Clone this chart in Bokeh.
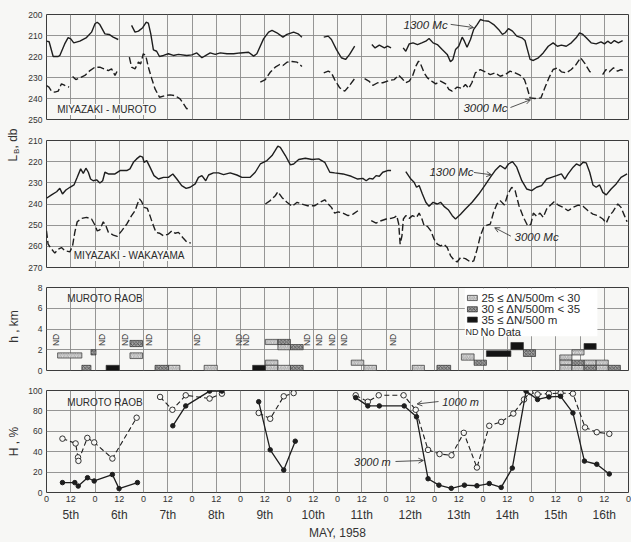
import math
from bokeh.plotting import figure
from bokeh.layouts import column, row
from bokeh.models import (Range1d, LinearAxis, Grid, FixedTicker, Label, Arrow,
                          OpenHead, BoxAnnotation)
from bokeh.core.properties import value
from bokeh.embed import file_html
from bokeh.resources import INLINE

NAN = float("nan")

# ---------------- data (hours from 0h May 5, 1958) ----------------
hour_ticks = list(range(0, 289, 12))
day_ticks = list(range(12, 289, 24))
day_names = ["5th", "6th", "7th", "8th", "9th", "10th", "11th", "12th",
             "13th", "14th", "15th", "16th"]

# Miyazaki - Muroto, basic transmission loss (db)
muroto_1300 = [
    [(0, 212.7), (1.3, 213), (3.3, 220), (5.8, 220), (6.6, 219.5), (9, 214), (10.7, 211),
     (12, 211.6), (13.5, 213.5), (16.5, 212.7), (19.8, 211), (22.3, 208.4), (24, 204.4),
     (25.1, 203.7), (26.4, 204.8), (28.9, 209.2), (31, 209.5), (33, 210.8), (35.5, 211.9)],
    [(42.1, 205.2), (43.8, 208.4), (45.5, 207.9), (47.6, 206.3), (49.3, 203.7), (50.4, 204.1),
     (51.6, 209.2), (52.9, 216.8), (54.5, 217.5), (55.9, 220), (57.9, 219.5), (60.3, 218.7),
     (62.8, 219.5), (65.3, 219), (69.4, 219.5), (71.9, 219.2), (74.4, 218.3), (76.9, 220.6),
     (79.3, 219.2), (81, 218.3), (83.5, 219), (86, 218.3), (89.3, 218.7), (92.6, 218.7),
     (95.9, 218.3), (100, 218), (102.5, 219.8), (104.1, 218.7), (107.4, 211.6), (109.9, 208.4),
     (111.6, 207.6), (114, 208.7), (117, 210.8), (119, 209.5), (122.3, 208.4), (124.5, 209.2),
     (126.4, 210.8)],
    [(137.2, 210.8), (139.4, 210.3), (141, 211.9), (143.5, 216.7), (145.9, 220.6), (148, 221.4),
     (150, 219), (152.5, 215.1)],
    [(161, 214.3), (162.6, 215.9), (164.7, 214.6), (167.2, 215.9), (168.8, 215.1), (170.5, 215.9)],
    [(176.5, 215.9), (177.8, 217.5), (179.5, 214), (181.4, 213.5), (183.6, 214.3), (185.7, 213.5),
     (187.7, 212.7), (189.3, 211.4), (191.3, 213.5), (193.4, 214.3), (195.8, 216.7), (198.3, 219),
     (199.9, 222.5), (201.1, 221.4), (202.4, 216.7), (204, 215.1), (205.7, 210.8), (206.8, 212.7),
     (208.1, 215.6), (209.8, 211.9), (211.4, 207.1), (213.1, 204.8), (214.7, 202.4), (216.3, 202.9),
     (218.8, 203.2), (221.3, 204.8), (223.7, 207.1), (225.6, 209.5), (227, 208.7), (228.6, 206.7),
     (230.6, 207.9), (232.7, 210.3), (235.2, 211.1), (236.8, 212.4), (238, 216.7), (239.3, 221.4),
     (240.9, 221.9), (243.4, 220.6), (245.8, 218.3), (248.3, 215.1), (250.7, 213.5), (252.8, 215.1),
     (254.8, 214.6), (257.2, 215.1), (259.7, 213.5), (262.1, 211.1), (263.8, 208.7), (265.4, 209.5),
     (267.1, 211.1), (269.5, 213.5), (272, 214), (274.4, 213), (276.1, 214), (277.7, 212.7),
     (279.3, 213.8), (281, 212.4), (283, 213.5), (285.1, 212.4)],
]
muroto_3000 = [
    [(0, 233.8), (1.2, 234.6), (2.5, 236.5), (4.1, 237), (5.8, 236.5), (7.4, 233), (9.1, 233.8),
     (11.2, 234.6)],
    [(12.9, 229.5), (14.5, 231), (16.5, 230.2), (19, 229), (21.5, 226.7), (24, 225.1), (26.4, 225.1),
     (28.4, 225.9), (30.6, 226.7), (32.2, 225.9), (33.9, 229), (35.5, 225.9)],
    [(41, 220.3), (42.1, 225.1), (43.8, 225.9), (45.5, 222.7), (46.6, 223.5), (47.9, 218.7),
     (49.1, 219.5), (50.4, 225.1), (52.1, 230.6), (53.7, 235.4), (55.9, 239.4), (58.7, 238.6),
     (61.2, 238.3), (63.6, 238.6), (66.1, 240.2), (67.8, 242.5), (69.4, 244.9), (70.4, 244.4)],
    [(105.8, 232.2), (108.3, 231), (110.7, 227.5), (113.2, 225.1), (115.4, 223.8), (117, 224.3),
     (119, 222.7), (121.5, 222.4), (124, 222.7), (126.4, 224.8)],
    [(137.2, 227.8), (139.4, 227), (141, 227.8), (142.6, 231), (145.1, 234.9), (147.6, 236.5),
     (149.7, 234.1), (152.5, 230.5)],
    [(157.4, 230.5), (159.5, 231.7), (161.5, 233.7), (163.9, 232.5), (166.4, 232.5), (169.7, 231.4),
     (172.1, 231), (174.2, 228.9), (175.9, 230.5), (177.8, 232.5), (179.5, 231.7), (181.1, 229.4),
     (182.8, 224.6), (184.1, 222.2), (185.2, 223.8), (186.9, 227.8), (188.5, 230.2), (190.6, 231.7),
     (192.6, 233), (195, 231.7), (197.5, 233), (199.1, 235.7), (200.7, 236.5), (203.2, 234.6),
     (205.6, 235.2), (207.3, 233.3), (208.9, 235.2), (210.5, 232.5), (212.2, 227.8), (214.7, 226.2),
     (217.1, 227.3), (219.6, 228.6), (222, 227.8), (224.5, 229.4), (227, 228.6), (229.4, 227),
     (231.9, 227.8), (234.3, 228.9), (236.5, 231), (237.6, 234.1), (239.3, 239.7), (241.7, 240),
     (244.7, 239.7), (246.6, 234.9), (248.6, 230.2), (250.7, 226.2), (252.8, 225.4), (254.8, 227.3),
     (257.2, 227.8), (259.7, 226.2), (262.1, 223.8), (264.3, 220.6), (266.2, 223), (268.7, 227),
     (270.3, 228.6)],
    [(275.2, 228.6), (276.8, 226.2), (278.5, 227.3), (280.6, 225.4), (282.6, 227), (284.2, 226.2),
     (285.9, 227)],
]

# Miyazaki - Wakayama, basic transmission loss (db)
wakayama_1300 = [
    [(0, 237.3), (2.5, 235.7), (5, 234.2), (6.6, 232.6), (7.9, 235.3), (9.6, 233.4), (11.6, 232.1),
     (13.6, 231), (15.2, 227.4), (16.9, 223.4), (18.2, 225.5), (19.5, 223.1), (20.7, 225),
     (21.8, 228.2), (23.1, 229), (24.8, 228.6), (26.4, 230.1), (27.8, 229), (28.9, 225),
     (30.6, 225.8), (33.9, 225.8), (36.4, 224.2), (39.7, 224.2), (41.3, 223.4), (43, 220.3),
     (44.6, 218.7), (46.3, 217.4), (47.6, 217.9), (48.3, 220.3), (49.6, 219.5), (51.2, 222.6),
     (53.2, 226.6), (55.4, 228.2), (57.9, 227.4), (60.3, 227.4), (62.5, 225.8), (64.5, 228.2),
     (66.9, 231.3), (69.1, 232.6), (71.1, 232.1), (73.6, 230.5), (75.2, 227.4), (76.9, 226.6),
     (78.8, 229), (80.2, 226.3), (82.6, 225.3), (85.1, 225.3), (87.6, 226.1), (90.9, 225.3),
     (94.2, 226.3), (96.7, 227.4), (100.8, 227.4), (103.3, 225), (105.8, 221.1), (109.1, 219.5),
     (111.6, 217.1), (113.2, 214.7), (114.5, 212.7), (115.7, 213.2), (118.2, 217.1), (120.7, 221.5),
     (122.3, 221.1), (124.8, 219), (128.1, 218.4), (131.4, 219), (134.7, 218.7), (137.7, 220.3),
     (140.2, 225), (142.6, 225.3), (146.7, 225.8), (150.8, 226.9), (154, 228.2), (156.5, 227.9),
     (158.2, 229), (159.8, 227.9), (161.5, 228.2), (163.1, 226.6), (164.7, 226.9), (166.4, 225),
     (168.8, 224.2), (170.5, 224.2)],
    [(177.8, 224.7), (180.3, 228.2), (181.9, 229.7), (183.1, 232.1), (184.4, 231.3), (186, 235.3),
     (187.7, 239.2), (189.3, 241.1), (191.3, 239.2), (193.4, 240), (195, 239.2), (196.7, 241.1),
     (198.8, 242.7), (200.8, 245.5), (202.4, 247.1), (204.9, 244.8), (207.3, 242.4), (210.6, 239.2),
     (213.9, 235.3), (217.1, 231), (219.6, 227.4), (222, 224.2), (224.5, 221.8), (227, 223.4),
     (228.6, 221.1), (230.6, 220), (232.7, 222.6), (235.2, 229), (237.6, 232.9), (240.1, 233.7),
     (242.5, 232.1), (245, 231.3), (247.5, 228.2), (249.9, 227.4), (252.4, 226.6), (254.8, 225.8),
     (256.5, 228.2), (258.1, 225.8), (260.6, 222.6), (262.2, 221.1), (263.9, 221.9), (265.5, 220.3),
     (267.1, 220.6), (268.8, 225), (270.4, 231), (272, 232.1), (273.7, 231), (275.3, 234.5),
     (277, 235.7), (279.4, 232.9), (281.9, 230.5), (284.3, 227.4), (287.3, 225.8)],
]
wakayama_3000 = [
    [(0, 252.7), (0.8, 259), (2.5, 261.3), (4.1, 263.2), (5.8, 261.3), (7.4, 260.6), (9.1, 262.1),
     (11.6, 262.6), (12.9, 259.8), (14, 253.4), (15.2, 248.4), (17.4, 246.8), (19.8, 246.3),
     (22.3, 247.1), (24, 250), (25.1, 252.7), (26.4, 252.2), (28.1, 248.4), (29.4, 250.3),
     (30.6, 253.4), (33.1, 254.7), (35, 255.3), (37.2, 252.7), (39.7, 249.5), (42.1, 245.5),
     (43.8, 243.2), (45, 240), (46, 237.6), (47.1, 238.9), (48.3, 241.6), (49.9, 242.1),
     (51.2, 245.5), (52.6, 249.5), (54.2, 253.4), (55.9, 253.8), (57.9, 255), (60.3, 254.2),
     (62, 252.7), (63.6, 253.8), (65.3, 253.4), (67.4, 255.8), (69.4, 257.9), (71.4, 258.5)],
    [(108.3, 240), (110.7, 238.4), (113.2, 236.1), (114.5, 234.2), (116.5, 236.9), (119, 239.2),
     (121.5, 241.1), (124, 239.2), (126.4, 240), (128.9, 240.8), (132.8, 240.8), (135.3, 239.2),
     (137.7, 238), (139.4, 240), (141, 241.6), (142.6, 244.3), (144.3, 243.7), (146.7, 244.3),
     (149.2, 245.5), (151.7, 244.8), (154.1, 243.2)],
    [(160.7, 247.9), (163.1, 249), (165.6, 247.9), (168.1, 247.1), (170.5, 246.8), (172.2, 246.3),
     (173.3, 245.5), (174.3, 249.5), (175, 259), (175.9, 255), (176.6, 247.1), (177.8, 245.5),
     (179.5, 246.8), (181.1, 245.5), (183.1, 246.3), (184.4, 244.3), (185.7, 246.8), (186.9, 250.3),
     (188.5, 250.6), (190.2, 252.7), (191.8, 256.6), (193.4, 259), (195, 259.8), (196.7, 259),
     (198.3, 260.6), (200, 264.5), (201.6, 266.4), (203.2, 267.4), (204.9, 265.3), (207.3, 265.8),
     (209.8, 267.4), (211.4, 266.9), (213.1, 261.3), (214.7, 255), (216.3, 251.1), (218, 250),
     (219.6, 249.5), (221.2, 244), (222.9, 240), (224.5, 238.4), (226.6, 240.5), (228.3, 235.3),
     (230.2, 232.1), (231.9, 233.7), (233.8, 240.8), (236, 246.3), (238.1, 250.3), (239.7, 249.5),
     (240.9, 244.3), (242.5, 245.8), (244.2, 244.3), (245.8, 246.3), (247.5, 242.4), (249.1, 240.8),
     (251.2, 238.9), (253.2, 240.5), (255.7, 241.6), (258.1, 243.2), (260.6, 241.6), (263.1, 240.5),
     (265.5, 241.1), (268, 243.2), (270.4, 244.8), (272.9, 245.5), (275.3, 247.1), (277, 249),
     (278.6, 245.5), (280.2, 243.7), (282.7, 240), (284.3, 241.6), (286, 245.5), (287.3, 248.4)],
]

# Muroto RAOB: layers of strong refractivity gradient (start h, end h, bottom km, top km, class)
# class 1: 25<=dN/500m<30, 2: 30<=dN/500m<35, 3: 35<=dN/500m
layer_t0 = [5.5, 17.5, 22, 29.5, 41.3, 41.3, 53.7, 60.3, 78, 102, 108.3, 108.3, 108.3, 114.5,
            114.5, 120.7, 114.5, 120.7, 150.8, 157, 181, 193.2, 205.3, 211.6, 217.7, 229.8, 236,
            254, 254, 254, 260, 260, 260, 266, 266, 266, 272, 272, 278]
layer_t1 = [17.5, 22, 24.5, 36, 47.5, 47.5, 60.3, 66, 84.5, 108.3, 114.5, 114.5, 114.5, 120.7,
            120.7, 127, 120.7, 127, 157, 163.3, 187, 200, 211.6, 217.7, 229.8, 236, 242,
            260, 260, 260, 266, 266, 266, 272, 272, 272, 278, 278, 284]
layer_z0 = [1.2, 0, 1.5, 0, 2.3, 1.15, 0, 0, 0, 0, 0.5, 0, 2.5, 2.5,
            2.0, 2.0, 0, 0, 0.5, 0, 0, 0, 1.0, 0.5, 1.35, 2.0, 1.35,
            1.0, 0.55, 0, 1.5, 0.5, 0, 2.05, 0.5, 0, 0.5, 0, 0]
layer_z1 = [1.7, 0.5, 2.0, 0.5, 2.9, 1.7, 0.5, 0.5, 0.5, 0.5, 1.0, 0.5, 3.0, 3.0,
            2.5, 2.5, 0.5, 0.5, 1.0, 0.5, 0.5, 0.5, 1.6, 1.0, 1.9, 2.7, 2.0,
            1.5, 1.0, 0.5, 2.0, 1.0, 0.5, 2.6, 1.0, 0.5, 1.0, 0.5, 0.5]
layer_cls = [1, 2, 2, 3, 2, 1, 2, 1, 1, 3, 1, 1, 1, 2,
             1, 2, 1, 2, 1, 1, 1, 2, 1, 2, 3, 3, 2,
             1, 1, 1, 1, 2, 1, 3, 1, 2, 1, 1, 2]
no_data_t = [4.5, 27.5, 39, 50.5, 74.5, 95.2, 98.6, 128.7, 134.8, 141.4, 147.2, 171.4]

# Muroto RAOB relative humidity (%)
rh_1000 = [
    [(7.9, 52.8), (14.4, 48.1), (15.6, 34.5), (15.8, 31), (20.2, 53.5), (23.6, 49.1), (32.6, 33.3),
     (44.6, 73.3)],
    [(56.2, 93.7), (62.3, 81.1), (68.9, 95.3), (80.7, 92.1), (86.8, 96.9)],
    [(105, 78), (110.7, 72.3), (117.4, 94.3), (122.3, 97.5)],
    [(153, 95.3), (159, 89), (164.4, 95.3), (176.7, 95.3), (182.7, 81.1), (188.8, 41.8),
     (194.5, 37.7), (200.4, 36.5), (206.5, 58.5), (213, 24.5), (219.1, 65.4), (225, 69.2),
     (231, 77.4), (236.3, 91.2), (239.3, 98.4), (243, 96.2), (248.6, 96.9), (254.4, 97.5),
     (260.5, 96.9), (266.5, 63.8), (272.3, 59.1), (278.5, 57.5)],
]
rh_3000 = [
    [(7.9, 9.7), (14, 9.7), (15.7, 6.3), (20.3, 14.5), (23.6, 11.3), (32.6, 17.6), (35.9, 3.8),
     (45, 9.7)],
    [(62.5, 65.4), (68.9, 84.9), (80.7, 99.4), (86.8, 99.4)],
    [(105, 89), (110.7, 41.8), (117.4, 22), (123.1, 50.3)],
    [(153, 93), (159, 84.9), (164.7, 84.9), (177, 84.9), (183.1, 74.2), (188.8, 13.5), (194.2, 7.2),
     (200.3, 4.1), (206.8, 7.2), (213, 6.6), (219.1, 8.8), (225, 5), (230.5, 23.9), (237.3, 99.4),
     (243, 91.2), (248.6, 93.7), (254.4, 94.3), (260.5, 78), (266.2, 30.8), (272.3, 27.7),
     (278.5, 18.2)],
]

# ---------------- styling ----------------
BG = "#f7f7f5"
INK = "#1e1e1e"
TXT = "#333333"
GRID = "#8a8a8a"
FONT = "Liberation Sans"
DASH = "7 3"
STRIP = 20          # width of the strip that carries the rotated axis titles


def flat(segs):
    xs, ys = [], []
    for i, seg in enumerate(segs):
        if i:
            xs.append(NAN)
            ys.append(NAN)
        for t, v in seg:
            xs.append(t)
            ys.append(v)
    return xs, ys


xr = Range1d(0, 288)
NO_TICKS = dict(axis_line_color=None, major_tick_line_color=None, minor_tick_line_color=None,
                major_tick_out=0, major_tick_in=0, minor_tick_out=0, minor_tick_in=0)


def make_fig(height, lo, hi, ticks, flip, top, bottom):
    yr = Range1d(hi, lo) if flip else Range1d(lo, hi)
    p = figure(width=631 - STRIP, height=height, x_range=xr, y_range=yr,
               output_backend="svg", toolbar_location=None,
               x_axis_location=None, y_axis_location=None,
               min_border_left=46 - STRIP, min_border_right=3,
               min_border_top=top, min_border_bottom=bottom,
               background_fill_color=BG, border_fill_color=BG,
               outline_line_color="#3c3c3c", outline_line_width=1)
    p.center = [r for r in p.center if not isinstance(r, Grid)]
    ax = LinearAxis(ticker=FixedTicker(ticks=ticks), major_label_standoff=4,
                    major_label_text_font=FONT, major_label_text_font_size="8.5px",
                    major_label_text_color=TXT, **NO_TICKS)
    p.add_layout(ax, "left")
    p.add_layout(Grid(dimension=0, ticker=FixedTicker(ticks=hour_ticks),
                      grid_line_color=GRID, grid_line_width=0.9))
    p.add_layout(Grid(dimension=1, ticker=FixedTicker(ticks=ticks),
                      grid_line_color=GRID, grid_line_width=0.9))
    return p


def note(p, x, y, text, size="11px", italic=False, bg=None, align="left"):
    lab = Label(x=x, y=y, text=text, text_font=FONT, text_font_size=size,
                text_color="#2a2a2a", text_align=align, text_baseline="middle",
                text_font_style="italic" if italic else "normal")
    if bg:
        lab.background_fill_color = bg
        lab.border_line_color = None
    p.add_layout(lab)


def arrow(p, x0, y0, x1, y1):
    p.add_layout(Arrow(x_start=x0, y_start=y0, x_end=x1, y_end=y1,
                       line_color="#2a2a2a", line_width=0.8,
                       end=OpenHead(size=5, line_color="#2a2a2a", line_width=0.8)))


# ---------------- panel 1 : Miyazaki - Muroto ----------------
p1 = make_fig(125, 200, 250, [200, 210, 220, 230, 240, 250], True, 14, 6)
x, y = flat(muroto_1300)
p1.line(x, y, line_color=INK, line_width=1.4)
x, y = flat(muroto_3000)
p1.line(x, y, line_color=INK, line_width=1.4, line_dash=DASH)
note(p1, 5.3, 245.2, "MIYAZAKI - MUROTO", size="10px", bg=BG)
note(p1, 176.7, 204.8, "1300 Mc", size="11.5px", italic=True)
arrow(p1, 200, 204.7, 211.3, 206.2)
note(p1, 206.3, 244.5, "3000 Mc", size="11.5px", italic=True)
arrow(p1, 229.6, 244.3, 239.5, 240.6)

# ---------------- panel 2 : Miyazaki - Wakayama ----------------
p2 = make_fig(150, 210, 270, [210, 220, 230, 240, 250, 260, 270], True, 15, 8)
x, y = flat(wakayama_1300)
p2.line(x, y, line_color=INK, line_width=1.4)
x, y = flat(wakayama_3000)
p2.line(x, y, line_color=INK, line_width=1.4, line_dash=DASH)
note(p2, 13.5, 264.3, "MIYAZAKI - WAKAYAMA", size="10px", bg=BG)
note(p2, 189.5, 225.1, "1300 Mc", size="11.5px", italic=True)
arrow(p2, 211.5, 225.1, 220.2, 226.2)
note(p2, 231.6, 255.4, "3000 Mc", size="11.5px", italic=True)
arrow(p2, 229.8, 255.2, 221.8, 251.2)

# ---------------- panel 3 : layers ----------------
p3 = make_fig(105, 0, 8, [0, 2, 4, 6, 8], False, 12, 10)
styles = {
    1: dict(fill_color="#dedede", hatch_pattern="right_diagonal_line", hatch_color="#8c8c8c",
            hatch_scale=3.5, hatch_weight=0.7),
    2: dict(fill_color="#a2a2a2", hatch_pattern="diagonal_cross", hatch_color="#3a3a3a",
            hatch_scale=3.5, hatch_weight=0.7),
    3: dict(fill_color="#141414"),
}
# legend background
p3.add_layout(BoxAnnotation(left=207.0, right=272.6, bottom=3.3, top=7.9,
                            fill_color="#ffffff", fill_alpha=1, line_color=None,
                            level="underlay"))
for c in (1, 2, 3):
    idx = [i for i, k in enumerate(layer_cls) if k == c]
    p3.quad(left=[layer_t0[i] for i in idx], right=[layer_t1[i] for i in idx],
            bottom=[layer_z0[i] for i in idx], top=[layer_z1[i] for i in idx],
            line_color="#333333", line_width=0.7, **styles[c])
p3.text(x=no_data_t, y=[2.95] * len(no_data_t), text=["ND"] * len(no_data_t),
        angle=math.pi / 2, text_align="center", text_baseline="middle",
        text_font=value(FONT), text_font_size="8.5px", text_color=TXT)
note(p3, 10.3, 6.9, "MUROTO  RAOB", size="10px")
legend_rows = [(1, 6.99, "25 \u2264 \u0394N/500m < 30"),
               (2, 5.9, "30 \u2264 \u0394N/500m < 35"),
               (3, 4.9, "35 \u2264 \u0394N/500 m")]
for c, yy, txt in legend_rows:
    p3.quad(left=[208.3], right=[213.2], bottom=[yy - 0.25], top=[yy + 0.25],
            line_color="#333333", line_width=0.7, **styles[c])
    note(p3, 215.2, yy, txt, size="11.5px")
note(p3, 207.4, 3.75, "ND", size="9px")
note(p3, 214.8, 3.75, "No Data", size="11px")

# ---------------- panel 4 : humidity ----------------
p4 = make_fig(162, 0, 100, [0, 20, 40, 60, 80, 100], False, 10, 46)
x, y = flat(rh_1000)
p4.line(x, y, line_color=INK, line_width=1.1, line_dash="5 3")
p4.scatter(x, y, marker="circle", size=5.5, fill_color=BG, line_color=INK, line_width=0.9)
x, y = flat(rh_3000)
p4.line(x, y, line_color=INK, line_width=1.3)
p4.scatter(x, y, marker="circle", size=4.5, fill_color=INK, line_color=INK)
note(p4, 10.3, 88.7, "MUROTO  RAOB", size="10px")
note(p4, 195.8, 89.2, "1000 m", size="11px", italic=True)
arrow(p4, 194, 89.2, 183.4, 86.8)
note(p4, 152.2, 30.2, "3000 m", size="11px", italic=True)
arrow(p4, 172.7, 30.4, 186.5, 31.4)

hour_axis = LinearAxis(ticker=FixedTicker(ticks=hour_ticks),
                       major_label_overrides={t: str(t % 24) for t in hour_ticks},
                       major_label_standoff=3, major_label_text_font=FONT,
                       major_label_text_font_size="9px", major_label_text_color=TXT,
                       **NO_TICKS)
day_axis = LinearAxis(ticker=FixedTicker(ticks=day_ticks),
                      major_label_overrides={t: n for t, n in zip(day_ticks, day_names)},
                      major_label_standoff=3, major_label_text_font=FONT,
                      major_label_text_font_size="12px", major_label_text_color=TXT,
                      axis_label="MAY, 1958", axis_label_text_font=FONT,
                      axis_label_text_font_size="12px", axis_label_text_font_style="normal",
                      axis_label_text_color=TXT, axis_label_standoff=1, **NO_TICKS)
p4.add_layout(hour_axis, "below")
p4.add_layout(day_axis, "below")

# ---------------- left strip with the rotated axis titles (pixel positions) ----------------
strip = figure(width=STRIP, height=542, x_range=Range1d(0, STRIP), y_range=Range1d(542, 0),
               output_backend="svg", toolbar_location=None,
               x_axis_location=None, y_axis_location=None,
               min_border=0, background_fill_color=BG, border_fill_color=BG,
               outline_line_color=None)
strip.center = [r for r in strip.center if not isinstance(r, Grid)]
titles = [("L", 12, 161, "12px", "left"), ("B", 15.5, 153.5, "8px", "left"),
          (", db", 12, 148, "12px", "left"),
          ("h , km", 13, 326, "12px", "center"), ("H , %", 13, 441, "12px", "center")]
for txt, xx, yy, fs, al in titles:
    strip.text(x=[xx], y=[yy], text=[txt], angle=math.pi / 2, text_align=al,
               text_baseline="middle", text_font=value(FONT), text_font_size=fs,
               text_color=TXT)

layout = row(strip, column(p1, p2, p3, p4, spacing=0, background=BG),
             spacing=0, background=BG)
open("out.html", "w").write(file_html(layout, INLINE))
